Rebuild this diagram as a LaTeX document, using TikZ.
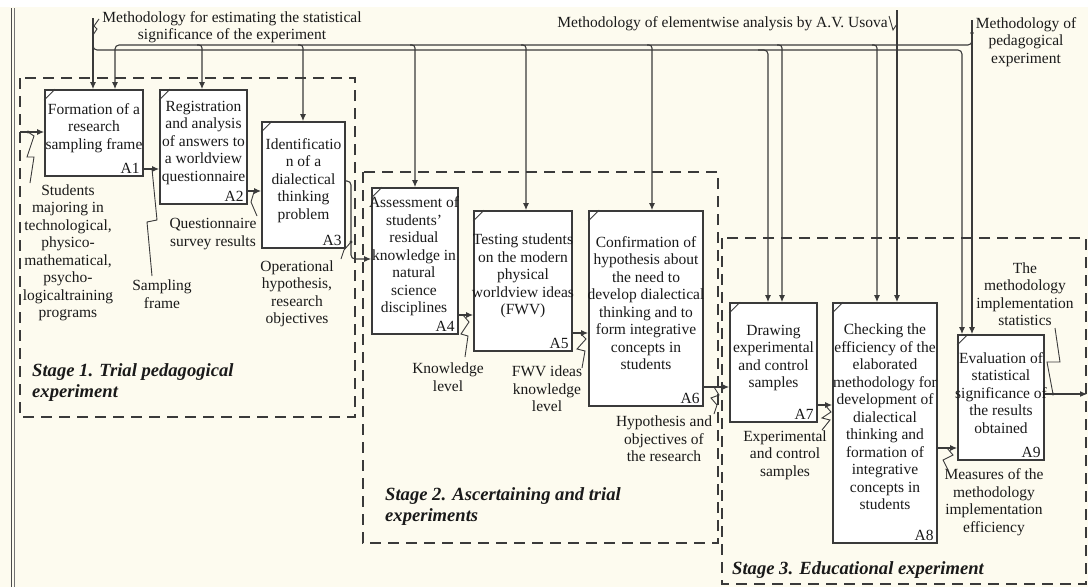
\documentclass[tikz,border=0pt]{standalone}
\usepackage{fontspec}
\setmainfont{Liberation Serif}
\usetikzlibrary{arrows.meta,calc}
\definecolor{bg}{HTML}{FDFBEF}
\definecolor{ln}{HTML}{3A3A3A}
\definecolor{tx}{HTML}{1A1A1A}
\begin{document}
\begin{tikzpicture}[x=1pt,y=-1pt,
  line/.style={draw=ln, line width=1.1pt},
  arr/.style={line, -{Latex[length=7pt,width=6pt]}},
  sq/.style={draw=ln, line width=0.9pt},
  box/.style={draw=ln, line width=1.7pt, fill=white, inner sep=0pt},
  txt/.style={font=\fontsize{15.5}{17.5}\selectfont, text=tx, align=center, inner sep=0pt},
  stg/.style={font=\fontsize{18.6}{21}\selectfont\bfseries\itshape, text=tx, align=left, inner sep=0pt, anchor=west},
  dashbox/.style={draw=ln, line width=1.5pt, dash pattern=on 11pt off 7pt},
  dot/.style={fill=ln}
]
\useasboundingbox (0,0) rectangle (1088,587);
\fill[bg] (0,0) rectangle (1088,587);
\fill[white] (0,0) rectangle (1088,7);
\draw[draw=black!70, line width=1pt] (11,8) -- (11,587);
\draw[draw=black!55, line width=0.8pt] (14.5,8) -- (14.5,587);

% stage frames
\draw[dashbox] (20,78) rectangle (355,417);
\draw[dashbox] (363,172) rectangle (718,543);
\draw[dashbox] (722,238) rectangle (1086,584);
\node[stg] (s1) at (32,383) {Stage 1. Trial pedagogical\\experiment};
\node[stg] (s2) at (385,507) {Stage 2. Ascertaining and trial\\experiments};
\node[stg] (s3) at (732,570) {Stage 3. Educational experiment};

% boxes
\node[box, minimum width=98pt, minimum height=86pt] (A1) at (94,133) {};
\node[box, minimum width=87pt, minimum height=114pt] (A2) at (203.5,147) {};
\node[box, minimum width=83pt, minimum height=126pt] (A3) at (303.5,185) {};
\node[box, minimum width=86pt, minimum height=146pt] (A4) at (415,261) {};
\node[box, minimum width=98pt, minimum height=140pt] (A5) at (523,281) {};
\node[box, minimum width=114pt, minimum height=195pt] (A6) at (646,308.5) {};
\node[box, minimum width=87pt, minimum height=119pt] (A7) at (773.5,362.5) {};
\node[box, minimum width=104pt, minimum height=240pt] (A8) at (885,423) {};
\node[box, minimum width=86pt, minimum height=125pt] (A9) at (1001,397.5) {};

\foreach \b in {A1,A2,A3,A4,A5,A6,A7,A8,A9}{
  \draw[draw=ln, line width=0.8pt] ([yshift=-11pt]\b.north west) -- ([xshift=11pt]\b.north west);
  \node[txt, anchor=south east] (id\b) at ([xshift=-4pt,yshift=3pt]\b.south east) {\b};
}

\node[txt] (tA1) at ([yshift=5pt]A1.center) {Formation of a\\research\\sampling frame};
\node[txt] (tA2) at ([yshift=4pt]A2.center) {Registration\\and analysis\\of answers to\\a worldview\\questionnaire};
\node[txt] (tA3) at ([yshift=4.5pt]A3.center) {Identificatio\\n of a\\dialectical\\thinking\\problem};
\node[txt] (tA4) at ([xshift=-1pt,yshift=4.5pt]A4.center) {Assessment of\\students’\\residual\\knowledge in\\natural\\science\\disciplines};
\node[txt] (tA5) at ([yshift=5pt]A5.center) {Testing students\\on the modern\\physical\\worldview ideas\\(FWV)};
\node[txt] (tA6) at ([yshift=5.5pt]A6.center) {Confirmation of\\hypothesis about\\the need to\\develop dialectical\\thinking and to\\form integrative\\concepts in\\students};
\node[txt] (tA7) at ([yshift=4.5pt]A7.center) {Drawing\\experimental\\and control\\samples};
\node[txt] (tA8) at ([yshift=6pt]A8.center) {Checking the\\efficiency of the\\elaborated\\methodology for\\development of\\dialectical\\thinking and\\formation of\\integrative\\concepts in\\students};
\node[txt] (tA9) at ([yshift=4.5pt]A9.center) {Evaluation of\\statistical\\significance of\\the results\\obtained};

% arrow labels
\node[txt] (lstud) at (68,253) {Students\\majoring in\\technological,\\physico-\\mathematical,\\psycho-\\logicaltraining\\programs};
\node[txt] (lsamp) at (162,294) {Sampling\\frame};
\node[txt] (lques) at (213,234) {Questionnaire\\survey results};
\node[txt] (loper) at (297,294) {Operational\\hypothesis,\\research\\objectives};
\node[txt] (lknow) at (448,377) {Knowledge\\level};
\node[txt] (lfwv) at (547,389) {FWV ideas\\knowledge\\level};
\node[txt] (lhyp) at (664,439) {Hypothesis and\\objectives of\\the research};
\node[txt] (lexp) at (785,455) {Experimental\\and control\\samples};
\node[txt] (lmeas) at (994,502) {Measures of the\\methodology\\implementation\\efficiency};
\node[txt] (lstat) at (1025,294) {The\\methodology\\implementation\\statistics};
\node[txt] (ltop1) at (232,27) {Methodology for estimating the statistical\\significance of the experiment};
\node[txt, anchor=east] (ltop2) at (888,24) {Methodology of elementwise analysis by A.V. Usova};
\node[txt] (ltop3) at (1026,42) {Methodology of\\pedagogical\\experiment};

% input / output / flow arrows
\coordinate (in1) at (20,132);
\draw[arr] (in1) -- (A1.west |- in1);
\draw[arr] (A1.east |- 0,169) -- (A2.west |- 0,169);
\draw[arr] (A2.east |- 0,191) -- (A3.west |- 0,191);
\draw[arr, rounded corners=4pt] (A3.east |- 0,181) -| (351,259) -- (A4.west |- 0,259);
\draw[arr] (A4.east |- 0,315) -- (A5.west |- 0,315);
\draw[arr] (A5.east |- 0,333) -- (A6.west |- 0,333);
\draw[arr] (A6.east |- 0,387) -- (A7.west |- 0,387);
\draw[arr] (A7.east |- 0,405) -- (A8.west |- 0,405);
\draw[arr] (A8.east |- 0,448) -- (A9.west |- 0,448);
\coordinate (out9) at (1087,394);
\draw[arr] (A9.east |- out9) -- (out9);

% label ties
\fill[dot] (28,132) circle (1.6pt);
\draw[sq] (28,132) -- (34,136) -- (27,157) -- (34,157) -- (30,183);
\draw[sq] (152,169) -- (157,220) -- (147,222) -- (152,276);
\draw[sq] (254,192) -- (251,202) -- (257,216);
\fill[dot] (351,242) circle (1.6pt);
\draw[sq] (351,242) -- (344,250) -- (341,259);
\draw[sq] (463,315) -- (469,322) -- (461,334) -- (468,336) -- (465,357);
\draw[sq] (580,333) -- (586,339) -- (577,349) -- (585,351) -- (582,368);
\draw[sq] (714,387) -- (719,395) -- (711,398) -- (717,405) -- (714,414);
\draw[sq] (825,405) -- (831,412) -- (822,418) -- (830,420) -- (822,430);
\draw[sq] (947,448) -- (953,455) -- (943,460) -- (948,470);
\fill[dot] (1053,394) circle (1.6pt);
\draw[sq] (1055,328) -- (1060,362) -- (1047,362) -- (1053,394);

% top control lines
\draw[sq] (99,19) -- (94,26) -- (97,29) -- (93,35);
\draw[arr] (93,18) -- (A1.north -| 93,0);
\draw[arr, rounded corners=4pt] (93,44) |- (962,50) -- (A9.north -| 962,0);
\draw[arr, rounded corners=4pt] (758,50) -| (A7.north -| 768,0);
\draw[line, {Latex[length=7pt,width=6pt]}-, rounded corners=4pt] (A1.north -| 115,0) |- (972,45) -- (972,33);
\draw[arr, rounded corners=3pt] (197,45) -| (A2.north -| 202,0);
\draw[arr, rounded corners=3pt] (298,45) -| (A3.north -| 303,0);
\draw[arr, rounded corners=3pt] (410,45) -| (A4.north -| 415,0);
\draw[arr, rounded corners=3pt] (521,45) -| (A5.north -| 526,0);
\draw[arr, rounded corners=3pt] (647,45) -| (A6.north -| 652,0);
\draw[arr, rounded corners=3pt] (777,45) -| (A7.north -| 782,0);
\draw[arr, rounded corners=3pt] (872,45) -| (A8.north -| 877,0);
\draw[sq] (889,16) -- (893,30) -- (897,24);
\draw[arr] (897,10) -- (A8.north -| 897,0);
\draw[arr] (972,20) -- (A9.north -| 972,0);
\fill[dot] (972,33) circle (1.8pt);
\end{tikzpicture}
\end{document}
